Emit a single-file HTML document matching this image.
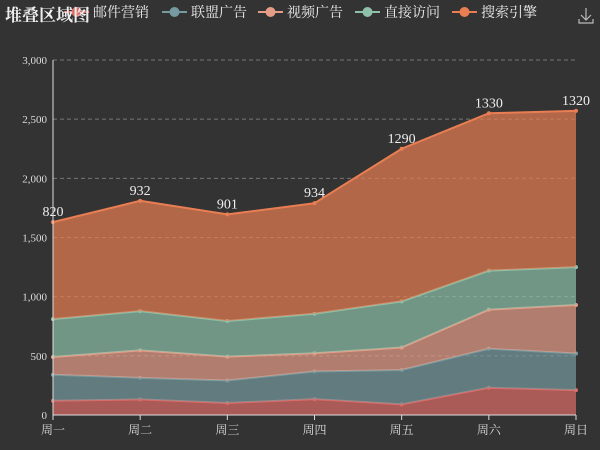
<!DOCTYPE html>
<html><head><meta charset="utf-8"><style>
html,body{margin:0;padding:0;background:#333;}
svg{display:block;font-family:"Liberation Serif","Noto Serif CJK SC",serif;}
</style></head><body>
<svg id="c" width="600" height="450" xmlns="http://www.w3.org/2000/svg">
<rect width="600" height="450" fill="#333"/>
<g id="grid"></g><g id="areas"></g><g id="axes"></g><g id="legend"></g>
<text x="5" y="21" fill="#eee" font-size="17" font-weight="bold">堆叠区域图</text>
<g stroke="#bbb" stroke-width="1.2" fill="none">
<path d="M586 8 V20 M581 15 L586 20 L591 15 M579 19 V23 H593 V19"/>
</g>
</svg>
<script>
const categories=["周一","周二","周三","周四","周五","周六","周日"];
const seriesNames=["邮件营销","联盟广告","视频广告","直接访问","搜索引擎"];
const s0=[120,132,101,134,90,230,210];
const s1=[220,182,191,234,290,330,310];
const s2=[150,232,201,154,190,330,410];
const s3=[320,332,301,334,390,330,320];
const s4=[820,932,901,934,1290,1330,1320];
const yTicks=[0,500,1000,1500,2000,2500,3000];
const yTickLabels=["0","500","1,000","1,500","2,000","2,500","3,000"];
const colors=["#dd6b66","#759aa0","#e69d87","#8dc1a9","#ea7e53"];
const NS="http://www.w3.org/2000/svg";
const X0=53,X1=576,Y0=415,Y1=60,YMAX=3000;
const xs=i=>X0+i*(X1-X0)/(categories.length-1);
const ys=v=>Y0-v/YMAX*(Y0-Y1);
function mk(t,a,p){const e=document.createElementNS(NS,t);for(const k in a)e.setAttribute(k,a[k]);p.appendChild(e);return e;}
const grid=document.getElementById('grid'),axes=document.getElementById('axes'),areas=document.getElementById('areas'),legend=document.getElementById('legend');
yTicks.forEach((t,i)=>{
 if(t>0){const l=mk('line',{x1:X0,x2:X1,y1:ys(t),y2:ys(t),stroke:'#777','stroke-dasharray':'4,3','stroke-width':1},grid);
 
 }
 const tx=mk('text',{x:47,y:ys(t)+4,'text-anchor':'end',fill:'#ddd','font-size':11},axes);
 tx.textContent=yTickLabels[i];
 
 
});
const yl=mk('line',{x1:X0,x2:X0,y1:Y1,y2:Y0,stroke:'#ddd'},axes);


const xl=mk('line',{x1:X0,x2:X1,y1:Y0,y2:Y0,stroke:'#ddd'},axes);


categories.forEach((c,i)=>{
 const tk=mk('line',{x1:xs(i),x2:xs(i),y1:Y0,y2:Y0+5,stroke:'#ddd'},axes);
 
 
 const tx=mk('text',{x:xs(i),y:Y0+19,'text-anchor':'middle',fill:'#ddd','font-size':12},axes);
 tx.textContent=c;
 
 
});
const all=[s0,s1,s2,s3,s4];
let base=categories.map(()=>0);
all.forEach((s,k)=>{
 const top=base.map((b,i)=>b+s[i]);
 let d='M'+top.map((v,i)=>xs(i)+','+ys(v)).join(' L');
 for(let i=categories.length-1;i>=0;i--)d+=' L'+xs(i)+','+ys(base[i]);
 const a=mk('path',{d:d+'Z',fill:colors[k],'fill-opacity':0.7},areas);
 
 
 const ln=mk('polyline',{points:top.map((v,i)=>xs(i)+','+ys(v)).join(' '),fill:'none',stroke:colors[k],'stroke-width':2},areas);
 
 
 top.forEach((v,i)=>{
  const p=mk('circle',{cx:xs(i),cy:ys(v),r:2,fill:colors[k]},areas);
  
  
  if(k===4){const t=mk('text',{x:xs(i),y:ys(v)-6,'text-anchor':'middle',fill:'#eee','font-size':14},areas);
   t.textContent=s[i];
   
   }
 });
 base=top;
});
const lx=[64,162,258,355,452];
seriesNames.forEach((n,k)=>{
 const g=mk('g',{},legend);
 
 
 mk('line',{x1:lx[k],x2:lx[k]+25,y1:12,y2:12,stroke:colors[k],'stroke-width':2},g);
 mk('circle',{cx:lx[k]+12.5,cy:12,r:5,fill:colors[k]},g);
 const t=mk('text',{x:lx[k]+29,y:17,fill:'#eee','font-size':14},g);
 t.textContent=n;
});
</script>
</body></html>
